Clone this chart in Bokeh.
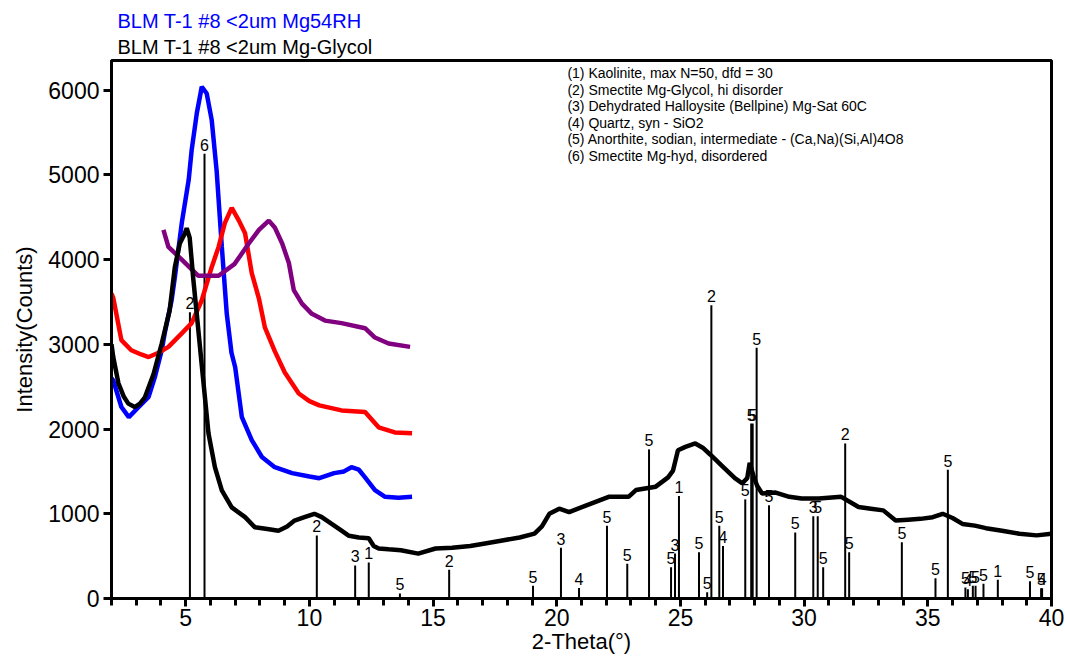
from bokeh.plotting import figure
from bokeh.models import FixedTicker, Label, Range1d, ColumnDataSource, Title
from bokeh.core.properties import value
from bokeh.embed import file_html
from bokeh.resources import INLINE

FONT = "Liberation Sans"

# ---- measured patterns ----
black_x = [2.0, 2.07, 2.28, 2.5, 2.68, 2.94, 3.15, 3.35, 3.7, 4.03, 4.35, 4.56, 4.76, 4.95, 5.04,
           5.16, 5.31, 5.45, 5.65, 5.92, 6.18, 6.46, 6.86, 7.4, 7.8, 8.3, 8.75, 9.1, 9.4, 9.8,
           10.2, 10.5, 10.9, 11.3, 11.6, 12.0, 12.4, 12.6, 12.8, 13.2, 13.7, 14.4, 15.1, 15.77,
           16.5, 17.1, 17.8, 18.5, 19.1, 19.4, 19.7, 20.1, 20.5, 21.2, 22.1, 22.9, 23.2, 24.0,
           24.5, 24.7, 24.9, 25.2, 25.6, 25.9, 26.2, 26.7, 27.2, 27.5, 27.7, 27.8, 27.95, 28.1,
           28.3, 28.85, 29.4, 29.9, 30.6, 31.5, 32.2, 32.7, 33.2, 33.7, 34.2, 34.7, 35.2, 35.6,
           36.0, 36.4, 36.9, 37.35, 38.0, 38.7, 39.4, 40.0]
black_y = [3000, 2850, 2540, 2380, 2300, 2260, 2300, 2375, 2650, 3010, 3400, 3910, 4190, 4300, 4370,
           4260, 3760, 3350, 2750, 1950, 1550, 1275, 1075, 960, 840, 820, 800, 850, 920, 960,
           1000, 960, 880, 800, 740, 720, 710, 620, 590, 580, 570, 530, 590, 600,
           620, 650, 685, 720, 765, 850, 1000, 1060, 1020, 1100, 1200, 1200, 1280, 1320,
           1430, 1510, 1750, 1790, 1830, 1780, 1700, 1560, 1420, 1360, 1420, 1600, 1450, 1330,
           1240, 1250, 1200, 1180, 1180, 1200, 1080, 1060, 1040, 920, 930, 940, 960, 1000,
           950, 880, 860, 830, 800, 765, 745, 765]

blue_x = [2.0, 2.07, 2.4, 2.7, 3.1, 3.5, 3.75, 4.03, 4.15, 4.43, 4.56, 4.84, 5.12, 5.24, 5.45, 5.65,
          5.85, 6.05, 6.25, 6.46, 6.66, 6.85, 7.0, 7.27, 7.67, 8.08, 8.6, 9.3, 10.0, 10.4, 11.0,
          11.4, 11.7, 12.0, 12.25, 12.65, 13.06, 13.6, 14.15]
blue_y = [2600, 2575, 2260, 2140, 2260, 2380, 2610, 2930, 3130, 3520, 3790, 4430, 4940, 5290, 5730, 6040,
          5960, 5650, 5050, 4150, 3360, 2900, 2730, 2140, 1870, 1670, 1550, 1480, 1440, 1420, 1480,
          1500, 1550, 1520, 1430, 1280, 1200, 1190, 1200]

red_x = [2.0, 2.07, 2.4, 2.8, 3.2, 3.5, 3.9, 4.3, 4.84, 5.24, 5.65, 6.05, 6.33, 6.58, 6.86, 7.15,
         7.4, 7.67, 7.96, 8.2, 8.6, 9.0, 9.57, 10.0, 10.4, 11.3, 12.25, 12.8, 13.45, 14.15]
red_y = [3600, 3550, 3050, 2930, 2880, 2850, 2900, 2970, 3130, 3250, 3520, 3910, 4150, 4430, 4610, 4460,
         4310, 3840, 3540, 3200, 2920, 2670, 2420, 2330, 2280, 2220, 2200, 2020, 1960, 1950]

purple_x = [4.1, 4.3, 4.84, 5.5, 6.33, 6.98, 7.55, 7.96, 8.36, 8.6, 8.9, 9.17, 9.37, 9.7, 10.1,
            10.63, 11.3, 12.25, 12.65, 13.2, 14.07]
purple_y = [4350, 4150, 4000, 3810, 3810, 3950, 4190, 4350, 4460, 4380, 4190, 3960, 3640, 3480, 3360,
            3280, 3250, 3190, 3080, 3010, 2970]

# reference stick pattern (position, height, phase number)
stick_pos = [5.17, 5.76, 10.3, 11.85, 12.4, 13.66, 15.65, 19.04, 20.17, 20.9, 22.03, 22.85, 23.73,
             24.62, 24.78, 24.94, 25.75, 26.08, 26.25, 26.57, 26.72, 27.62, 27.86, 27.92, 28.08,
             28.58, 29.64, 30.37, 30.55, 30.77, 31.66, 31.82, 33.95, 35.31, 35.81, 36.52, 36.62,
             36.82, 36.93, 37.25, 37.83, 39.13, 39.58, 39.62]
stick_h = [3380, 5250, 745, 390, 425, 60, 340, 150, 600, 125, 860, 410, 1760,
           370, 530, 1210, 545, 75, 3460, 860, 620, 1170, 2065, 2065, 2960,
           1100, 780, 970, 970, 370, 1830, 545, 665, 240, 1520, 130, 110,
           150, 150, 175, 220, 205, 120, 120]
stick_lab = ["2", "6", "2", "3", "1", "5", "2", "5", "3", "4", "5", "5", "5",
             "5", "3", "1", "5", "5", "2", "5", "4", "5", "5", "5", "5",
             "5", "5", "3", "5", "5", "2", "5", "5", "5", "5", "5", "4",
             "5", "5", "5", "1", "5", "5", "4"]

x_ticks = [5, 10, 15, 20, 25, 30, 35, 40]
x_minor = list(range(2, 41))
y_ticks = [0, 1000, 2000, 3000, 4000, 5000, 6000]

series_names = ["BLM T-1 #8 <2um Mg54RH", "BLM T-1 #8 <2um Mg-Glycol"]
phase_list = ["(1) Kaolinite, max N=50, dfd = 30",
              "(2) Smectite Mg-Glycol, hi disorder",
              "(3) Dehydrated Halloysite (Bellpine) Mg-Sat 60C",
              "(4) Quartz, syn - SiO2",
              "(5) Anorthite, sodian, intermediate - (Ca,Na)(Si,Al)4O8",
              "(6) Smectite Mg-hyd, disordered"]

p = figure(width=1065, height=662, x_range=Range1d(2, 40), y_range=Range1d(0, 6350),
           output_backend="svg", toolbar_location=None, title=None,
           min_border_left=111, min_border_right=14, min_border_top=60, min_border_bottom=64)
p.background_fill_color = "white"
p.border_fill_color = "white"
p.outline_line_color = "black"
p.outline_line_width = 3
p.xgrid.visible = False
p.ygrid.visible = False

p.xaxis.ticker = FixedTicker(ticks=x_ticks, minor_ticks=x_minor)
p.yaxis.ticker = FixedTicker(ticks=y_ticks, minor_ticks=[])
for ax in (p.xaxis[0], p.yaxis[0]):
    ax.axis_line_width = 3
    ax.axis_line_color = "black"
    ax.major_tick_line_width = 3
    ax.minor_tick_line_width = 3
    ax.major_tick_out = 8
    ax.major_tick_in = 0
    ax.minor_tick_out = 7
    ax.minor_tick_in = 0
    ax.major_label_text_font = FONT
    ax.major_label_text_font_size = "23px"
    ax.major_label_text_color = "black"
    ax.axis_label_text_font = FONT
    ax.axis_label_text_font_size = "22px"
    ax.axis_label_text_font_style = "normal"
    ax.axis_label_text_color = "black"
p.xaxis.axis_label = "2-Theta(°)"
p.yaxis.axis_label = "Intensity(Counts)"
p.xaxis.major_label_standoff = 2
p.xaxis.axis_label_standoff = 0
p.yaxis.major_label_standoff = 4
p.yaxis.axis_label_standoff = 8

# sticks and their labels (drawn under the patterns)
sticks = ColumnDataSource(dict(x=stick_pos, h=stick_h, y0=[0] * len(stick_pos), lab=stick_lab))
p.segment(x0="x", y0="y0", x1="x", y1="h", source=sticks, line_color="black", line_width=2)
p.text(x="x", y="h", text="lab", source=sticks, text_align="center", text_baseline="bottom",
       y_offset=-3, text_font=value(FONT), text_font_size="16px", text_color="black")

# patterns
p.line(blue_x, blue_y, line_color="#0000FF", line_width=4.5)
p.line(red_x, red_y, line_color="#FF0000", line_width=4.5)
p.line(purple_x, purple_y, line_color="#800080", line_width=4.5)
p.line(black_x, black_y, line_color="black", line_width=4.5)

# series names above the frame (first added = nearest the frame)
name_colors = ["#0000FF", "black"]
name_standoff = [0, 5]
for t, c, so in reversed(list(zip(series_names, name_colors, name_standoff))):
    p.add_layout(Title(text=t, text_color=c, text_font=FONT, text_font_size="20px",
                       text_font_style="normal", align="left", offset=6, standoff=so), "above")

# phase list
top = 6200
step = 195
for i, t in enumerate(phase_list):
    p.add_layout(Label(x=20.43, y=top - i * step, text=t, text_color="black", text_font=FONT,
                       text_font_size="14px", text_baseline="middle", text_align="left"))

open("out.html", "w").write(file_html(p, INLINE))
